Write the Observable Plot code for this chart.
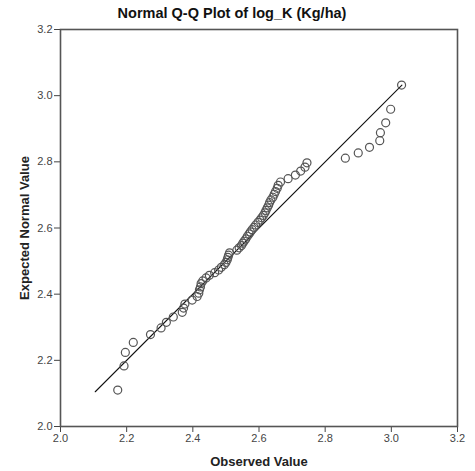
<!DOCTYPE html>
<html>
<head>
<meta charset="utf-8">
<script src="https://cdn.jsdelivr.net/npm/d3@7"></script>
<script src="https://cdn.jsdelivr.net/npm/@observablehq/plot@0.6"></script>
<style>
  body { margin: 0; background: #fff; }
  #chart svg { font-family: "Liberation Sans", Arial, sans-serif; }
</style>
</head>
<body>
<div id="chart"></div>
<script>
const title = "Normal Q-Q Plot of log_K (Kg/ha)";
const xLabel = "Observed Value";
const yLabel = "Expected Normal Value";
const tickValues = [2.0, 2.2, 2.4, 2.6, 2.8, 3.0, 3.2];

const observed = [
  2.173, 2.192, 2.196, 2.220, 2.272, 2.304, 2.320, 2.341, 2.368, 2.372,
  2.376, 2.398, 2.413, 2.418, 2.420, 2.423, 2.425, 2.430, 2.440, 2.450,
  2.466, 2.478, 2.486, 2.495, 2.500, 2.504, 2.506, 2.508, 2.511, 2.533,
  2.540, 2.547, 2.551, 2.555, 2.560, 2.565, 2.570, 2.574, 2.579, 2.585,
  2.590, 2.597, 2.603, 2.608, 2.613, 2.618, 2.621, 2.625, 2.629, 2.632,
  2.636, 2.642, 2.646, 2.650, 2.655, 2.658, 2.665, 2.688, 2.710, 2.726,
  2.739, 2.745, 2.861, 2.900, 2.934, 2.965, 2.967, 2.983, 2.998, 3.031
];
const expected = [
  2.110, 2.183, 2.224, 2.254, 2.278, 2.298, 2.315, 2.331, 2.345, 2.358,
  2.370, 2.382, 2.393, 2.403, 2.413, 2.422, 2.432, 2.440, 2.449, 2.457,
  2.465, 2.473, 2.481, 2.489, 2.496, 2.504, 2.511, 2.518, 2.525, 2.533,
  2.540, 2.547, 2.554, 2.560, 2.567, 2.575, 2.582, 2.588, 2.595, 2.602,
  2.609, 2.617, 2.624, 2.631, 2.638, 2.646, 2.653, 2.661, 2.669, 2.677,
  2.685, 2.693, 2.702, 2.710, 2.720, 2.729, 2.739, 2.749, 2.760, 2.772,
  2.784, 2.797, 2.811, 2.827, 2.844, 2.864, 2.888, 2.918, 2.959, 3.032
];
// Reference line endpoints
const lineX = [2.105, 3.032];
const lineY = [2.105, 3.032];

const points = observed.map((x, i) => ({x, y: expected[i]}));
const refLine = lineX.map((x, i) => ({x, y: lineY[i]}));

const chart = Plot.plot({
  width: 475,
  height: 471,
  marginLeft: 60,
  marginRight: 18,
  marginTop: 29,
  marginBottom: 45,
  style: {fontFamily: "'Liberation Sans', Arial, sans-serif", fontSize: "11px", color: "#333", background: "#fff"},
  x: {domain: [2.0, 3.2], ticks: tickValues, tickFormat: ".1f", label: null},
  y: {domain: [2.0, 3.2], ticks: tickValues, tickFormat: ".1f", label: null},
  marks: [
    Plot.axisX({ticks: tickValues, tickFormat: ".1f", tickSize: 6, tickPadding: 2, stroke: "#444", fill: "#444", fontSize: 11, label: null}),
    Plot.axisY({ticks: tickValues, tickFormat: ".1f", tickSize: 6, tickPadding: 2, stroke: "#444", fill: "#444", fontSize: 11, label: null}),
    Plot.frame({stroke: "#555", strokeWidth: 1.6}),
    Plot.line(refLine, {x: "x", y: "y", stroke: "#111", strokeWidth: 1.1}),
    Plot.dot(points, {x: "x", y: "y", r: 4, stroke: "#555", strokeWidth: 1.2, fill: "none"}),
    Plot.text([title], {frameAnchor: "top", textAnchor: "middle", dx: -27, dy: -22, fontSize: 14.5, fontWeight: "bold", fill: "#111"}),
    Plot.text([xLabel], {frameAnchor: "bottom", textAnchor: "middle", dy: 39, fontSize: 13, fontWeight: "bold", fill: "#222"}),
    Plot.text([yLabel], {frameAnchor: "left", textAnchor: "middle", dx: -36, rotate: -90, fontSize: 13, fontWeight: "bold", fill: "#222"})
  ]
});
document.getElementById("chart").appendChild(chart);
</script>
</body>
</html>
